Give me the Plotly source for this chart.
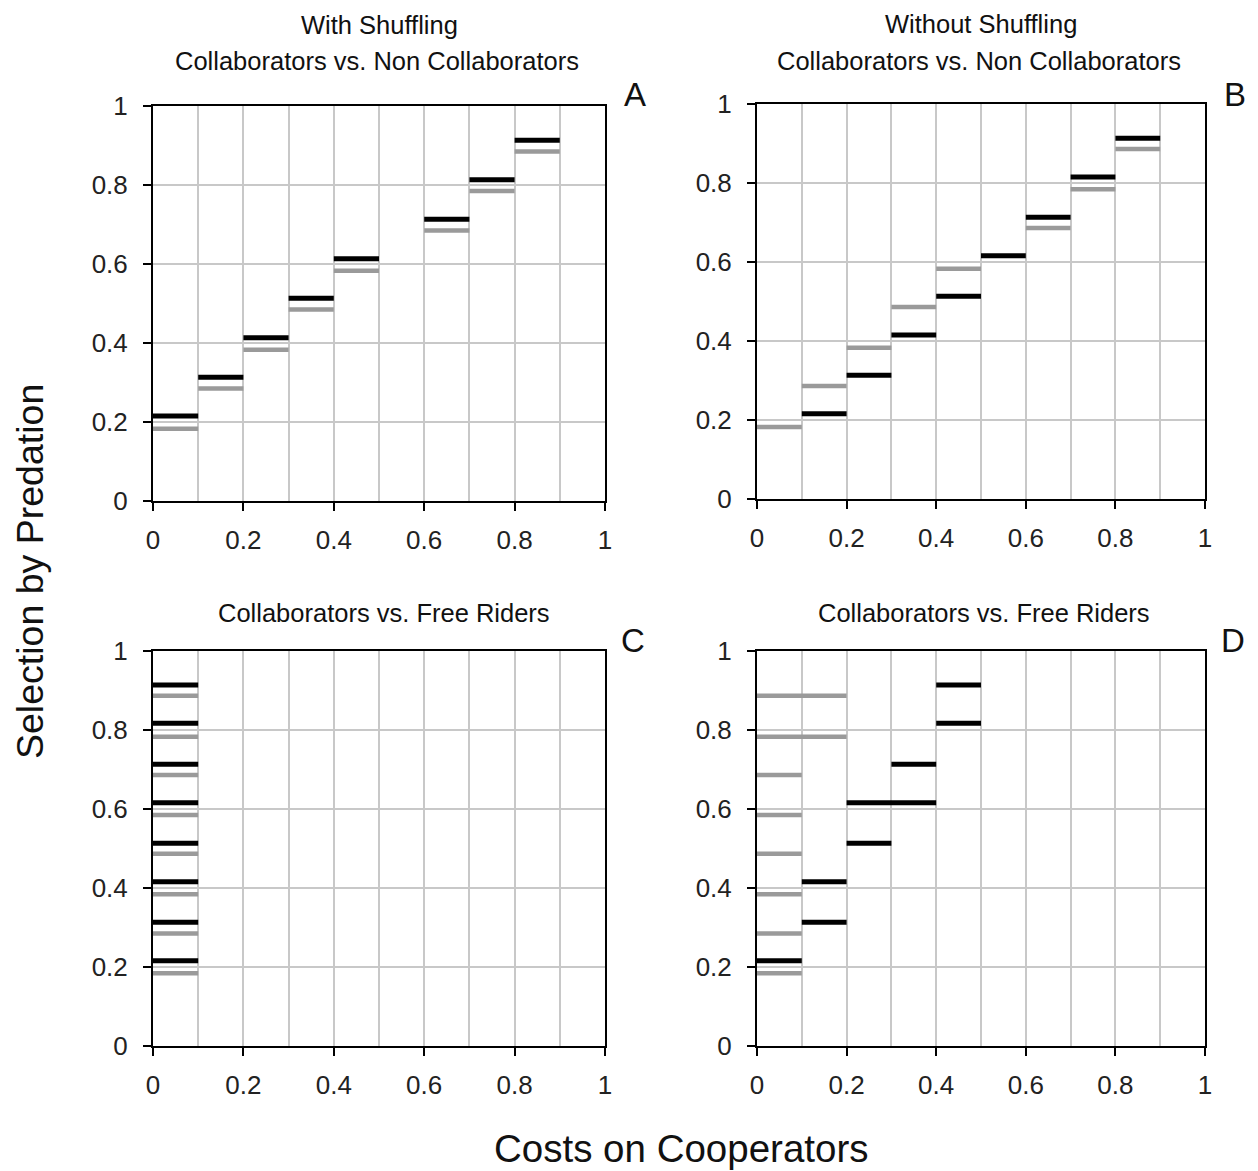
import plotly.graph_objects as go

# page body has an 8px margin; size the figure to fill the rest of the window
OFF = 8
W, H = 1258 - OFF, 1171 - OFF

# ---- data: (x_start, x_end, y) segments ----
A_black_x0 = [0.0, 0.1, 0.2, 0.3, 0.4, 0.6, 0.7, 0.8]
A_black_x1 = [0.1, 0.2, 0.3, 0.4, 0.5, 0.7, 0.8, 0.9]
A_black_y = [0.215, 0.313, 0.413, 0.513, 0.613, 0.713, 0.813, 0.913]
A_gray_x0 = [0.0, 0.1, 0.2, 0.3, 0.4, 0.6, 0.7, 0.8]
A_gray_x1 = [0.1, 0.2, 0.3, 0.4, 0.5, 0.7, 0.8, 0.9]
A_gray_y = [0.183, 0.285, 0.383, 0.485, 0.583, 0.685, 0.785, 0.885]

B_black_x0 = [0.1, 0.2, 0.3, 0.4, 0.5, 0.6, 0.7, 0.8]
B_black_x1 = [0.2, 0.3, 0.4, 0.5, 0.6, 0.7, 0.8, 0.9]
B_black_y = [0.216, 0.313, 0.415, 0.513, 0.616, 0.713, 0.815, 0.913]
B_gray_x0 = [0.0, 0.1, 0.2, 0.3, 0.4, 0.6, 0.7, 0.8]
B_gray_x1 = [0.1, 0.2, 0.3, 0.4, 0.5, 0.7, 0.8, 0.9]
B_gray_y = [0.182, 0.286, 0.383, 0.486, 0.583, 0.686, 0.784, 0.886]

C_black_x0 = [0.0] * 8
C_black_x1 = [0.1] * 8
C_black_y = [0.216, 0.313, 0.416, 0.513, 0.616, 0.713, 0.817, 0.914]
C_gray_x0 = [0.0] * 8
C_gray_x1 = [0.1] * 8
C_gray_y = [0.184, 0.285, 0.384, 0.487, 0.585, 0.686, 0.783, 0.887]

D_black_x0 = [0.0, 0.1, 0.1, 0.2, 0.2, 0.3, 0.4, 0.4]
D_black_x1 = [0.1, 0.2, 0.2, 0.3, 0.4, 0.4, 0.5, 0.5]
D_black_y = [0.216, 0.313, 0.416, 0.513, 0.616, 0.713, 0.817, 0.914]
D_gray_x0 = [0.0, 0.0, 0.0, 0.0, 0.0, 0.0, 0.0, 0.0]
D_gray_x1 = [0.1, 0.1, 0.1, 0.1, 0.1, 0.1, 0.2, 0.2]
D_gray_y = [0.184, 0.285, 0.384, 0.487, 0.585, 0.686, 0.783, 0.887]

tick_vals = [0, 0.2, 0.4, 0.6, 0.8, 1]
tick_text = ["0", "0.2", "0.4", "0.6", "0.8", "1"]

FONT = "Liberation Sans, Arial, sans-serif"
GRAY = "#9a9a9a"
BLACK = "#000000"


def seg_xy(x0, x1, y):
    xs, ys = [], []
    for a, b, v in zip(x0, x1, y):
        xs += [a, b, None]
        ys += [v, v, None]
    return xs, ys


fig = go.Figure()

panels = [
    ("x", "y", A_gray_x0, A_gray_x1, A_gray_y, A_black_x0, A_black_x1, A_black_y),
    ("x2", "y2", B_gray_x0, B_gray_x1, B_gray_y, B_black_x0, B_black_x1, B_black_y),
    ("x3", "y3", C_gray_x0, C_gray_x1, C_gray_y, C_black_x0, C_black_x1, C_black_y),
    ("x4", "y4", D_gray_x0, D_gray_x1, D_gray_y, D_black_x0, D_black_x1, D_black_y),
]
for xa, ya, gx0, gx1, gy, bx0, bx1, by in panels:
    xs, ys = seg_xy(gx0, gx1, gy)
    fig.add_trace(go.Scatter(x=xs, y=ys, mode="lines", xaxis=xa, yaxis=ya,
                             line=dict(color=GRAY, width=4.5), showlegend=False,
                             hoverinfo="skip"))
    xs, ys = seg_xy(bx0, bx1, by)
    fig.add_trace(go.Scatter(x=xs, y=ys, mode="lines", xaxis=xa, yaxis=ya,
                             line=dict(color=BLACK, width=5), showlegend=False,
                             hoverinfo="skip"))


def px_x(p):
    return (p - OFF) / W


def px_y(p):
    return 1 - (p - OFF) / H


# plot areas in window pixels (left, right, top, bottom)
boxes = {
    "": (153, 605, 106, 501),
    "2": (757, 1205, 104, 499),
    "3": (153, 605, 651, 1046),
    "4": (757, 1205, 651, 1046),
}

layout = dict(
    width=W, height=H,
    margin=dict(l=0, r=0, t=0, b=0, pad=0),
    plot_bgcolor="white", paper_bgcolor="white",
    font=dict(family=FONT, color="#222222"),
    showlegend=False,
)

for k, (l, r, t, b) in boxes.items():
    layout["xaxis" + k] = dict(
        domain=[px_x(l), px_x(r)], range=[0, 1], anchor="y" + k,
        tickvals=tick_vals, ticktext=tick_text,
        showline=True, linecolor="black", linewidth=2, mirror=True,
        ticks="outside", ticklen=8, tickwidth=2, tickcolor="black",
        showgrid=True, gridcolor="#c8c8c8", gridwidth=2,
        minor=dict(dtick=0.1, tick0=0, showgrid=True, gridcolor="#c8c8c8", gridwidth=2),
        tickfont=dict(size=26, family=FONT, color="#222222"),
        ticklabelstandoff=7, zeroline=False, fixedrange=True, automargin=False,
    )
    layout["yaxis" + k] = dict(
        domain=[px_y(b), px_y(t)], range=[0, 1], anchor="x" + k,
        tickvals=tick_vals, ticktext=tick_text,
        showline=True, linecolor="black", linewidth=2, mirror=True,
        ticks="outside", ticklen=8, tickwidth=2, tickcolor="black",
        showgrid=True, gridcolor="#c8c8c8", gridwidth=2,
        tickfont=dict(size=26, family=FONT, color="#222222"),
        ticklabelstandoff=10, zeroline=False, fixedrange=True, automargin=False,
    )

fig.update_layout(**layout)

anns = [
    ("With Shuffling", 379, 25, 25.5),
    ("Collaborators vs. Non Collaborators", 377, 61, 25.5),
    ("Without Shuffling", 981, 24, 25.5),
    ("Collaborators vs. Non Collaborators", 979, 61, 25.5),
    ("Collaborators vs. Free Riders", 384, 613, 25.5),
    ("Collaborators vs. Free Riders", 984, 613, 25.5),
    ("A", 635, 95, 33),
    ("B", 1235, 95, 33),
    ("C", 633, 640, 33),
    ("D", 1233, 640, 33),
    ("Costs on Cooperators", 681, 1148, 38.5),
]
for text, x, y, size in anns:
    fig.add_annotation(text=text, x=px_x(x), y=px_y(y), xref="paper", yref="paper",
                       showarrow=False, xanchor="center", yanchor="middle",
                       font=dict(size=size, family=FONT, color="#111111"))

fig.add_annotation(text="Selection by Predation", x=px_x(30), y=px_y(572),
                   xref="paper", yref="paper", showarrow=False, textangle=-90,
                   xanchor="center", yanchor="middle",
                   font=dict(size=37.5, family=FONT, color="#111111"))

fig.write_html("out.html")
